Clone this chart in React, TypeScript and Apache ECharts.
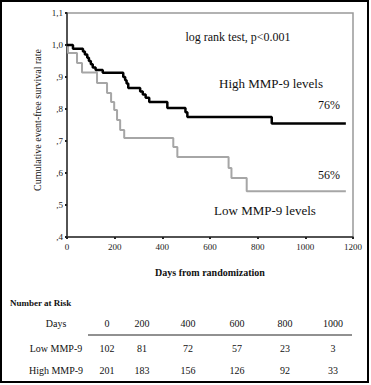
import React, { useEffect, useRef } from "react";
import * as echarts from "echarts";

const highDays = [0, 25, 67, 75, 85, 92, 100, 108, 120, 150, 236, 244, 250, 257, 307, 318, 330, 345, 421, 497, 505, 859, 1170];
const highSurv = [1.0, 0.988, 0.98, 0.97, 0.96, 0.95, 0.94, 0.93, 0.922, 0.913, 0.9, 0.89, 0.88, 0.866, 0.855, 0.845, 0.835, 0.822, 0.803, 0.79, 0.775, 0.755, 0.755];

const lowDays = [0, 4, 42, 63, 126, 168, 185, 198, 210, 223, 240, 446, 463, 678, 690, 754, 1170];
const lowSurv = [1.0, 0.975, 0.944, 0.914, 0.881, 0.85, 0.822, 0.797, 0.766, 0.734, 0.709, 0.681, 0.65, 0.616, 0.584, 0.543, 0.543];

const riskDays = ["0", "200", "400", "600", "800", "1000"];
const riskLow = [102, 81, 72, 57, 23, 3];
const riskHigh = [201, 183, 156, 126, 92, 33];
const riskColX = [107, 142, 188, 237, 285, 333];

const FONT = "Liberation Serif";

function fmtY(v: number): string {
  let s = v.toFixed(1);
  if (s.startsWith("0")) s = s.slice(1);
  return s.replace(".", ",");
}

export default function App() {
  const ref = useRef<HTMLDivElement>(null);
  useEffect(() => {
    if (!ref.current) return;
    const chart = echarts.init(ref.current, null, { renderer: "svg" });
    const txt = (x: number, y: number, text: string, size: number, align = "center", weight = "normal") => ({
      type: "text",
      x,
      y,
      style: {
        text,
        fontFamily: FONT,
        fontSize: size,
        fontWeight: weight,
        fill: "#111",
        textAlign: align,
        textVerticalAlign: "middle",
      },
    });
    const graphics: any[] = [
      {
        type: "rect",
        shape: { x: 1, y: 1, width: 367, height: 381 },
        style: { fill: "none", stroke: "#000", lineWidth: 2 },
      },
      txt(238, 37, "log rank test, p<0.001", 12),
      txt(271, 83, "High MMP-9 levels", 13),
      txt(340, 105, "76%", 12, "right"),
      txt(340, 175, "56%", 12, "right"),
      txt(265, 210, "Low MMP-9 levels", 13),
      { ...txt(37, 120, "Cumulative event-free survival rate", 10), rotation: Math.PI / 2 },
      txt(210, 272, "Days from randomization", 10, "center", "bold"),
      txt(10, 303, "Number at Risk", 9, "left", "bold"),
      txt(56, 323, "Days", 10),
      txt(56, 348, "Low MMP-9", 10),
      txt(56, 370, "High MMP-9", 10),
      {
        type: "line",
        shape: { x1: 88, y1: 335, x2: 352, y2: 335 },
        style: { stroke: "#222", lineWidth: 1 },
      },
    ];
    riskDays.forEach((d, i) => {
      graphics.push(txt(riskColX[i], 323, d, 10));
      graphics.push(txt(riskColX[i], 348, String(riskLow[i]), 10));
      graphics.push(txt(riskColX[i], 370, String(riskHigh[i]), 10));
    });

    chart.setOption({
      animation: false,
      backgroundColor: "#fff",
      textStyle: { fontFamily: FONT },
      grid: {
        left: 67,
        top: 13,
        right: 18,
        bottom: 148,
        show: true,
        borderColor: "#999",
        borderWidth: 1.5,
      },
      xAxis: {
        type: "value",
        min: 0,
        max: 1200,
        interval: 200,
        axisLine: { show: true, lineStyle: { color: "#333", width: 1.5 } },
        axisTick: { show: true, length: 2, inside: false, lineStyle: { color: "#222", width: 2 } },
        axisLabel: { fontFamily: FONT, fontSize: 9, color: "#222", margin: 5, formatter: (v: number) => String(v) },
        splitLine: { show: false },
      },
      yAxis: {
        type: "value",
        min: 0.4,
        max: 1.1,
        interval: 0.1,
        axisLine: { show: true, lineStyle: { color: "#333", width: 1.5 } },
        axisTick: { show: true, length: 2, inside: false, lineStyle: { color: "#222", width: 2 } },
        axisLabel: { fontFamily: FONT, fontSize: 9, color: "#222", margin: 4, formatter: (v: number) => fmtY(v) },
        splitLine: { show: false },
      },
      series: [
        {
          type: "line",
          step: "end",
          symbol: "none",
          data: lowDays.map((d, i) => [d, lowSurv[i]]),
          lineStyle: { color: "#a6a6a6", width: 2 },
          z: 2,
        },
        {
          type: "line",
          step: "end",
          symbol: "none",
          data: highDays.map((d, i) => [d, highSurv[i]]),
          lineStyle: { color: "#000", width: 2.5 },
          z: 3,
        },
      ],
      graphic: graphics,
    });
    return () => chart.dispose();
  }, []);
  return (
    <div
      ref={ref}
      style={{ position: "fixed", left: 0, top: 0, width: 371, height: 385, background: "#fff" }}
    />
  );
}
